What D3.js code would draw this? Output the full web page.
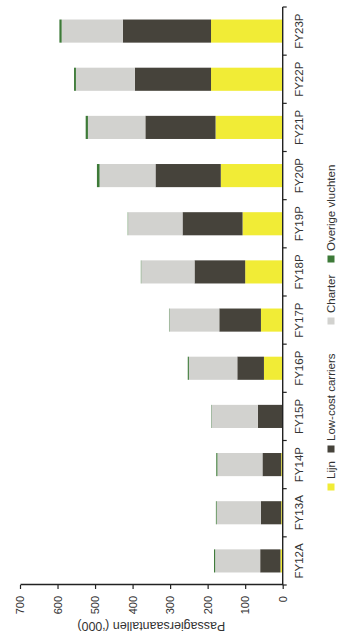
<!DOCTYPE html>
<html>
<head>
<meta charset="utf-8">
<script src="https://cdn.jsdelivr.net/npm/d3@7"></script>
<style>
  html, body { margin: 0; padding: 0; background: #fff; }
  svg { display: block; }
</style>
</head>
<body>
<svg id="chart" width="340" height="633"></svg>
<script>
// ---- data ----
const categories = ["FY12A","FY13A","FY14P","FY15P","FY16P","FY17P","FY18P","FY19P","FY20P","FY21P","FY22P","FY23P"];
const lijn      = [6, 4, 4, 1, 50, 58, 100, 107, 165, 179, 191, 191];
const lowCost   = [54, 54, 50, 65, 71, 111, 135, 160, 174, 187, 203, 235];
const charter   = [120, 118, 120, 124, 129, 133, 142, 145, 149, 153, 157, 163];
const overige   = [3, 2, 3, 1, 3, 1, 1, 1, 7, 6, 5, 6];
const seriesNames = ["Lijn", "Low-cost carriers", "Charter", "Overige vluchten"];
const seriesKeys = ["lijn", "lowCost", "charter", "overige"];
const valueTicks = [0, 100, 200, 300, 400, 500, 600, 700];
const axisTitle = "Passagiersaantallen (‘000)";

const colors = { lijn: "#f1ec36", lowCost: "#46433b", charter: "#d2d2cf", overige: "#3d7a38" };

const table = categories.map((c, i) => ({
  cat: c, lijn: lijn[i], lowCost: lowCost[i], charter: charter[i], overige: overige[i]
}));

// ---- drawing (chart drawn in an unrotated 633x340 frame, then rotated -90deg) ----
const W = 633, H = 340;
const svg = d3.select("#chart");
const g = svg.append("g").attr("transform", `translate(0,${W}) rotate(-90)`);

const x = d3.scaleBand().domain(categories).range([48, 626]).paddingInner(0.52).paddingOuter(0.26);
const y = d3.scaleLinear().domain([0, 700]).range([282.7, 20]);

const stack = d3.stack().keys(seriesKeys)(table);

g.append("g").selectAll("g").data(stack).join("g")
  .attr("fill", d => colors[d.key])
  .selectAll("rect").data(d => d).join("rect")
  .attr("x", d => x(d.data.cat))
  .attr("width", x.bandwidth())
  .attr("y", d => y(d[1]))
  .attr("height", d => y(d[0]) - y(d[1]));

const axisColor = "#222";
const textColor = "#333";

// value axis
const yAxis = g.append("g").attr("transform", "translate(48,0)")
  .call(d3.axisLeft(y).tickValues(valueTicks).tickSize(4).tickSizeOuter(0).tickPadding(7));
yAxis.select(".domain").attr("stroke", axisColor).attr("stroke-width", 1.4);
yAxis.selectAll(".tick line").attr("stroke", axisColor).attr("stroke-width", 1.2);
yAxis.selectAll(".tick text")
  .attr("fill", textColor)
  .style("font-family", "'Liberation Sans Narrow', 'Liberation Sans', Arial, sans-serif")
  .style("font-size", "11px");

// category axis with ticks at band boundaries
const step = x.step();
const r0 = x.range()[0];
const boundaries = d3.range(categories.length + 1).map(i => r0 + i * step);
const xAxisG = g.append("g");
xAxisG.append("line")
  .attr("x1", r0).attr("x2", x.range()[1])
  .attr("y1", y(0)).attr("y2", y(0))
  .attr("stroke", axisColor).attr("stroke-width", 1.4);
xAxisG.selectAll("line.tick").data(boundaries).join("line")
  .attr("class", "tick")
  .attr("x1", d => d).attr("x2", d => d)
  .attr("y1", y(0)).attr("y2", y(0) + 4)
  .attr("stroke", axisColor).attr("stroke-width", 1.2);
xAxisG.selectAll("text").data(categories).join("text")
  .attr("x", d => x(d) + x.bandwidth() / 2)
  .attr("y", y(0) + 12)
  .attr("dy", "0.71em")
  .attr("text-anchor", "middle")
  .attr("fill", textColor)
  .style("font-family", "'Liberation Sans Narrow', 'Liberation Sans', Arial, sans-serif")
  .style("font-size", "11.5px")
  .text(d => d);

// axis title (upside down after rotation)
g.append("text")
  .attr("transform", `translate(11.5,${(y(0) + y(700)) / 2}) rotate(-90)`)
  .attr("text-anchor", "middle")
  .attr("fill", textColor)
  .style("font-family", "'Liberation Sans', Arial, sans-serif")
  .style("font-size", "12.5px")
  .text(axisTitle);

// legend
const legendPos = [146, 184, 312, 374];
const legend = g.append("g").selectAll("g").data(seriesKeys).join("g")
  .attr("transform", (d, i) => `translate(${legendPos[i]},331)`);
legend.append("rect")
  .attr("x", -3.5).attr("y", -3.5).attr("width", 7).attr("height", 7)
  .attr("fill", d => colors[d]);
legend.append("text")
  .attr("x", 8).attr("y", 3.8)
  .attr("fill", textColor)
  .style("font-family", "'Liberation Sans', Arial, sans-serif")
  .style("font-size", "11.5px")
  .text((d, i) => seriesNames[i]);
</script>
</body>
</html>
